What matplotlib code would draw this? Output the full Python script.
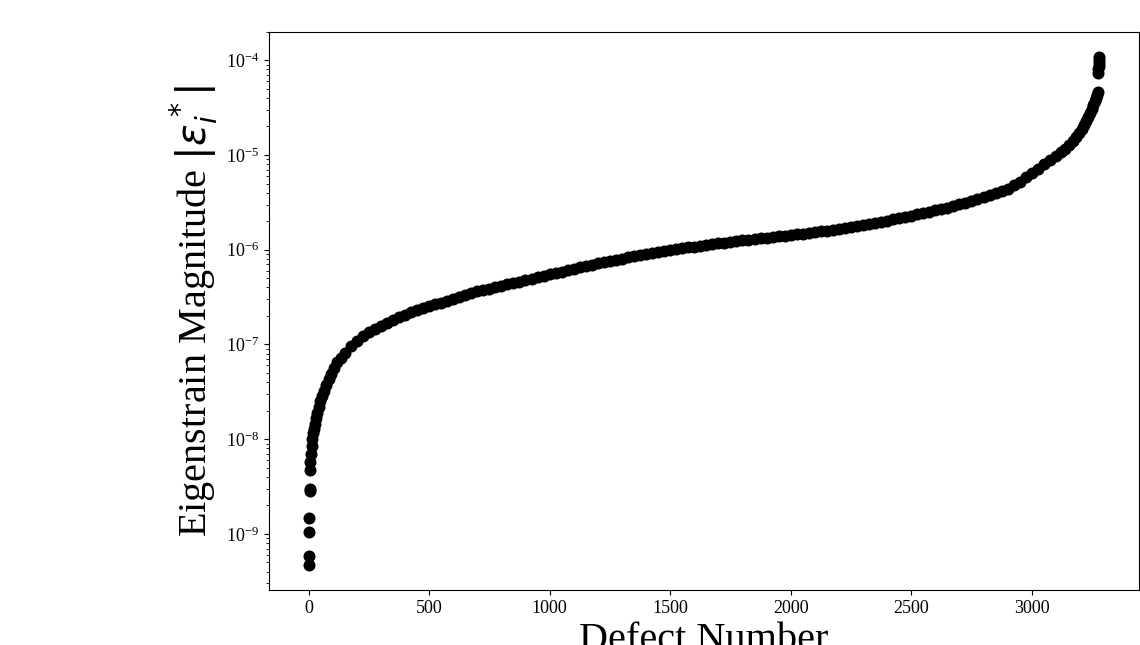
import matplotlib
matplotlib.use("Agg")
import matplotlib.pyplot as plt

# Values
defect_number = [
    0, 1, 2, 3, 4, 5, 6, 8, 10, 13, 16, 19, 22, 26, 31, 36, 42, 49, 57, 65,
    74, 84, 95, 107, 120, 135,
    150, 175, 200, 225, 250, 275, 300, 325, 350, 375, 400, 425, 450, 475,
    500, 525, 550, 575, 600, 625, 650, 675, 700, 725, 750, 775, 800, 825,
    850, 875, 900, 925, 950, 975, 1000, 1025, 1050, 1075, 1100, 1125, 1150,
    1175, 1200, 1225, 1250, 1275, 1300, 1325, 1350, 1375, 1400, 1425, 1450,
    1475, 1500, 1525, 1550, 1575, 1600, 1625, 1650, 1675, 1700, 1725, 1750,
    1775, 1800, 1825, 1850, 1875, 1900, 1925, 1950, 1975, 2000, 2025, 2050,
    2075, 2100, 2125, 2150, 2175, 2200, 2225, 2250, 2275, 2300, 2325, 2350,
    2375, 2400, 2425, 2450, 2475, 2500, 2525, 2550, 2575, 2600, 2625, 2650,
    2675, 2700, 2725, 2750, 2775, 2800, 2825, 2850, 2875, 2900, 2925, 2950,
    2975, 3000, 3025, 3050, 3075, 3100, 3120, 3139, 3155, 3170, 3185, 3197,
    3207, 3217, 3226, 3234, 3242, 3249, 3255, 3261, 3266, 3270, 3274,
    3276, 3277, 3278, 3279, 3280, 3281,
]

eigenstrain_magnitude = [
    4.74e-10, 5.90e-10, 1.05e-9, 1.48e-9, 2.84e-9, 2.95e-9, 4.68e-9, 5.75e-9,
    6.92e-9, 8.51e-9, 1.00e-8, 1.15e-8, 1.29e-8, 1.45e-8, 1.66e-8, 1.91e-8,
    2.19e-8, 2.51e-8, 2.88e-8, 3.24e-8, 3.72e-8, 4.27e-8, 4.90e-8, 5.62e-8,
    6.46e-8, 7.24e-8,
    8.13e-8, 9.55e-8, 1.10e-7, 1.22e-7, 1.35e-7, 1.46e-7, 1.58e-7, 1.70e-7,
    1.82e-7, 1.95e-7, 2.07e-7, 2.19e-7, 2.29e-7, 2.43e-7, 2.54e-7, 2.66e-7,
    2.75e-7, 2.88e-7, 3.02e-7, 3.16e-7, 3.31e-7, 3.47e-7, 3.63e-7, 3.76e-7,
    3.89e-7, 4.03e-7, 4.17e-7, 4.32e-7, 4.47e-7, 4.62e-7, 4.79e-7, 4.95e-7,
    5.13e-7, 5.31e-7, 5.50e-7, 5.69e-7, 5.89e-7, 6.10e-7, 6.31e-7, 6.53e-7,
    6.76e-7, 6.97e-7, 7.16e-7, 7.38e-7, 7.59e-7, 7.82e-7, 8.04e-7, 8.28e-7,
    8.51e-7, 8.71e-7, 8.91e-7, 9.16e-7, 9.40e-7, 9.64e-7, 9.89e-7, 1.010e-6,
    1.035e-6, 1.057e-6, 1.079e-6, 1.102e-6, 1.122e-6, 1.146e-6, 1.167e-6,
    1.189e-6, 1.211e-6, 1.230e-6, 1.253e-6, 1.274e-6, 1.294e-6, 1.315e-6,
    1.337e-6, 1.358e-6, 1.380e-6, 1.403e-6, 1.426e-6, 1.449e-6, 1.476e-6,
    1.503e-6, 1.531e-6, 1.560e-6, 1.592e-6, 1.626e-6, 1.660e-6, 1.698e-6,
    1.738e-6, 1.778e-6, 1.820e-6, 1.871e-6, 1.923e-6, 1.977e-6, 2.032e-6,
    2.089e-6, 2.153e-6, 2.218e-6, 2.286e-6, 2.355e-6, 2.432e-6, 2.512e-6,
    2.600e-6, 2.692e-6, 2.786e-6, 2.891e-6, 3.006e-6, 3.126e-6, 3.258e-6,
    3.404e-6, 3.565e-6, 3.741e-6, 3.936e-6, 4.140e-6, 4.365e-6, 4.786e-6,
    5.248e-6, 5.821e-6, 6.457e-6, 7.161e-6, 7.943e-6, 8.810e-6, 9.772e-6,
    1.072e-5, 1.161e-5, 1.274e-5, 1.396e-5, 1.549e-5, 1.698e-5, 1.884e-5,
    2.089e-5, 2.291e-5, 2.512e-5, 2.754e-5, 3.055e-5, 3.350e-5, 3.673e-5,
    3.981e-5, 4.266e-5, 4.624e-5,
    7.413e-5, 8.128e-5, 8.710e-5, 9.333e-5, 1.000e-4, 1.081e-4,
]

x_label = "Defect Number"
y_label = r"Eigenstrain Magnitude $|\varepsilon_i^*|$"

plt.rcParams["font.family"] = ["Liberation Serif", "DejaVu Sans"]

fig = plt.figure(figsize=(11.4, 6.45), dpi=100)
ax = fig.add_axes([269 / 1140, 1 - 590 / 645, (1139 - 269) / 1140, (590 - 31.7) / 645])

ax.scatter(defect_number, eigenstrain_magnitude, s=75, color="black", linewidths=0)
ax.set_yscale("log")

ax.set_xlabel(x_label, fontsize=29)
ax.set_ylabel(y_label, fontsize=29)
ax.tick_params(axis="both", which="major", labelsize=13)

fig.savefig("out.png", dpi=100)
